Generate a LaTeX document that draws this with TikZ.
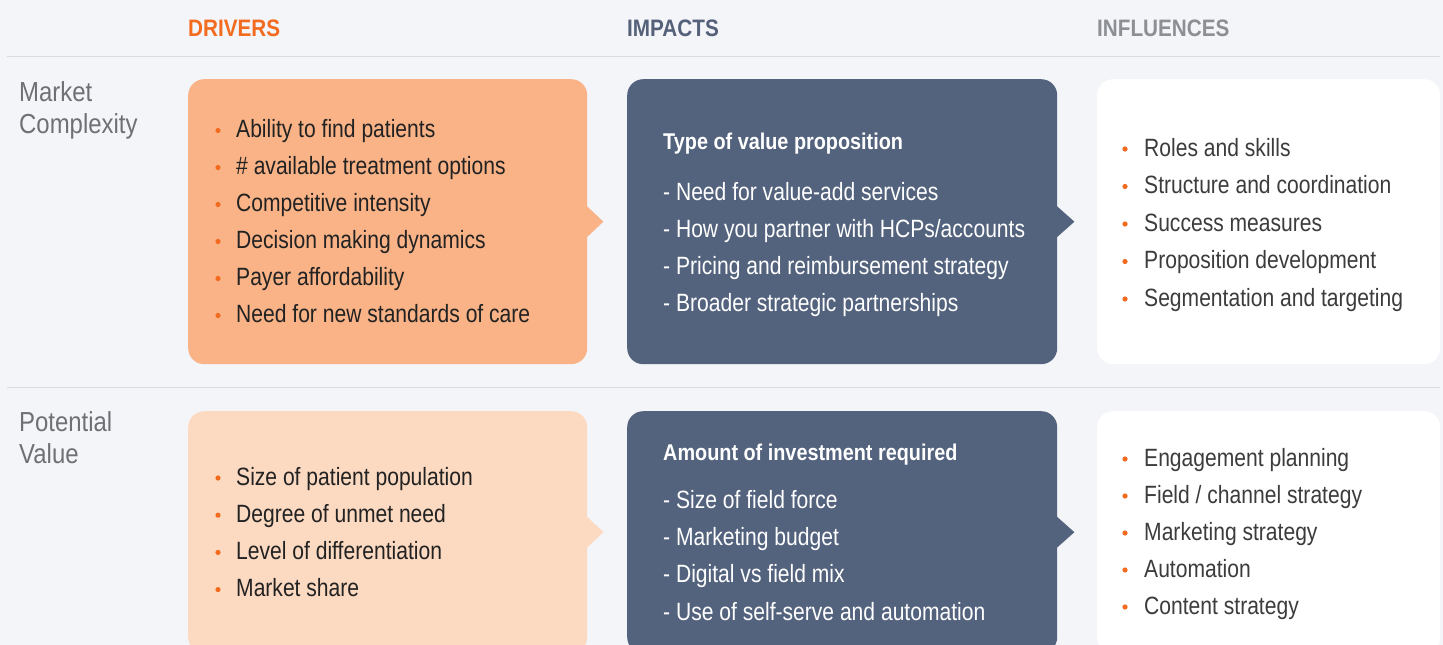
\documentclass[tikz,border=0pt]{standalone}
\usepackage{fontspec}
\setmainfont{Liberation Sans}[FakeStretch=0.87]
\newfontfamily\bodyfont{Liberation Sans}[FakeStretch=0.843]
\definecolor{bgc}{HTML}{F4F5F9}
\definecolor{linec}{HTML}{D9DBE1}
\definecolor{orangec}{HTML}{F26B1F}
\definecolor{impc}{HTML}{556079}
\definecolor{inflc}{HTML}{8C8F94}
\definecolor{rowc}{HTML}{6E7075}
\definecolor{box1c}{HTML}{F9B387}
\definecolor{box2c}{HTML}{FCD9C1}
\definecolor{darkc}{HTML}{53627D}
\definecolor{txtc}{HTML}{222222}
\definecolor{infc}{HTML}{3C3C3C}
\tikzset{
  card/.style={anchor=north west, rounded corners=16pt, inner sep=0pt, minimum width=#1},
  hdr/.style={anchor=base west, inner sep=0pt, font=\fontsize{23.8}{28}\selectfont\bfseries},
  rowlbl/.style={anchor=base west, inner sep=0pt, text=rowc, font=\fontsize{27.5}{32}\selectfont},
  drv/.style={anchor=base west, inner sep=0pt, text=txtc, font=\bodyfont\fontsize{25}{30}\selectfont},
  imp/.style={anchor=base west, inner sep=0pt, text=white, font=\bodyfont\fontsize{25}{30}\selectfont},
  impt/.style={anchor=base west, inner sep=0pt, text=white, font=\fontsize{22.8}{27}\selectfont\bfseries},
  infl/.style={anchor=base west, inner sep=0pt, text=infc, font=\bodyfont\fontsize{25}{30}\selectfont},
  dot/.style={fill=orangec},
}
\begin{document}
\begin{tikzpicture}[x=1pt,y=-1pt]
\useasboundingbox (0,0) rectangle (1443,645);
\clip (0,0) rectangle (1443,645);
\fill[bgc] (0,0) rectangle (1443,645);

% headers
\node[hdr, text=orangec] (hd) at (188,36) {DRIVERS};
\node[hdr, text=impc] (hi) at (627,36) {IMPACTS};
\node[hdr, text=inflc] (hf) at (1097,36) {INFLUENCES};
\coordinate (l1a) at (7,56.5); \coordinate (l1b) at (1440,56.5);
\coordinate (l2a) at (7,387.5); \coordinate (l2b) at (1440,387.5);
\draw[linec, line width=1.5pt] (l1a) -- (l1b);
\draw[linec, line width=1.5pt] (l2a) -- (l2b);

% row labels
\node[rowlbl] (r1a) at (19,101) {Market};
\node[rowlbl] (r1b) at (19,133.5) {Complexity};
\node[rowlbl] (r2a) at (19,431.5) {Potential};
\node[rowlbl] (r2b) at (19,463.5) {Value};

% row 1 cards
\node[card=399pt, minimum height=285pt, fill=box1c] (d1) at (188,79) {};
\fill[box1c] (d1.east) ++(-1,-16) -- ++(17,16) -- ++(-17,16) -- cycle;
\node[card=430pt, minimum height=285pt, fill=darkc] (m1) at (627,79) {};
\fill[darkc] (m1.east) ++(-1,-16) -- ++(18,16) -- ++(-18,16) -- cycle;
\node[card=343pt, minimum height=285pt, fill=white] (f1) at (1097,79) {};

% row 2 cards
\node[card=399pt, minimum height=242pt, fill=box2c] (d2) at (188,411) {};
\fill[box2c] (d2.east) ++(-1,-16) -- ++(17,16) -- ++(-17,16) -- cycle;
\node[card=430pt, minimum height=242pt, fill=darkc] (m2) at (627,411) {};
\fill[darkc] (m2.east) ++(-1,-16) -- ++(18,16) -- ++(-18,16) -- cycle;
\node[card=343pt, minimum height=242pt, fill=white] (f2) at (1097,411) {};

% drivers row 1
\foreach \t [count=\i] in {Ability to find patients, \# available treatment options, Competitive intensity, Decision making dynamics, Payer affordability, Need for new standards of care}{
  \pgfmathsetmacro{\yy}{137.5+37*(\i-1)}
  \fill[dot] (218,\yy-7) circle (2.6pt);
  \node[drv] (d1t\i) at (236,\yy) {\t};
}
% impacts row 1
\node[impt] (m1h) at (663,149.3) {Type of value proposition};
\foreach \t [count=\i] in {- Need for value-add services, - How you partner with HCPs/accounts, - Pricing and reimbursement strategy, - Broader strategic partnerships}{
  \pgfmathsetmacro{\yy}{200+37*(\i-1)}
  \node[imp] (m1t\i) at (663,\yy) {\t};
}
% influences row 1
\foreach \t [count=\i] in {Roles and skills, Structure and coordination, Success measures, Proposition development, Segmentation and targeting}{
  \pgfmathsetmacro{\yy}{156+37.5*(\i-1)}
  \fill[dot] (1125,\yy-7) circle (2.6pt);
  \node[infl] (f1t\i) at (1144,\yy) {\t};
}

% drivers row 2
\foreach \t [count=\i] in {Size of patient population, Degree of unmet need, Level of differentiation, Market share}{
  \pgfmathsetmacro{\yy}{485+37.2*(\i-1)}
  \fill[dot] (218,\yy-7) circle (2.6pt);
  \node[drv] (d2t\i) at (236,\yy) {\t};
}
% impacts row 2
\node[impt] (m2h) at (663,460) {Amount of investment required};
\foreach \t [count=\i] in {- Size of field force, - Marketing budget, - Digital vs field mix, - Use of self-serve and automation}{
  \pgfmathsetmacro{\yy}{508.3+37.3*(\i-1)}
  \node[imp] (m2t\i) at (663,\yy) {\t};
}
% influences row 2
\foreach \t [count=\i] in {Engagement planning, Field / channel strategy, Marketing strategy, Automation, Content strategy}{
  \pgfmathsetmacro{\yy}{466+37*(\i-1)}
  \fill[dot] (1125,\yy-7) circle (2.6pt);
  \node[infl] (f2t\i) at (1144,\yy) {\t};
}
\end{tikzpicture}
\end{document}
